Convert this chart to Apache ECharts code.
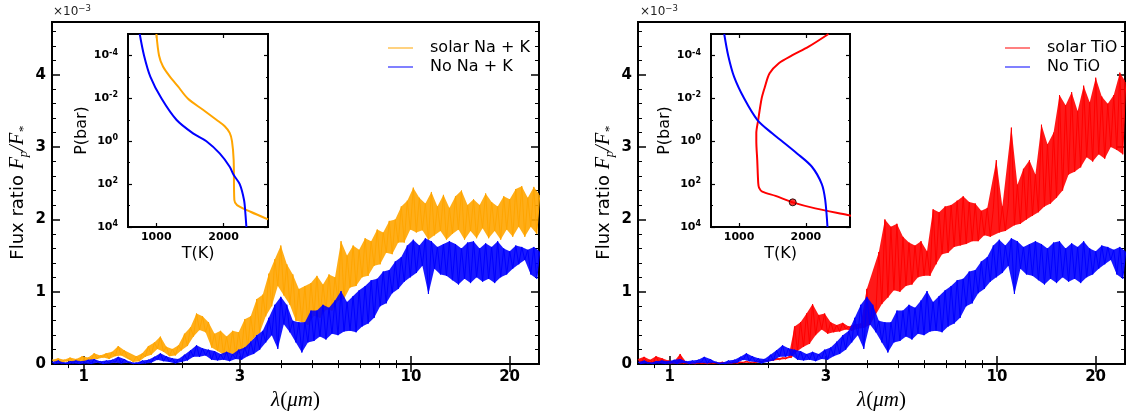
<!DOCTYPE html>
<html>
<head>
<meta charset="utf-8">
<script src="https://cdn.jsdelivr.net/npm/echarts@6/dist/echarts.min.js"></script>
<style>
  html, body { margin: 0; padding: 0; background: #fff; }
  #chart { width: 1126px; height: 416px; }
</style>
</head>
<body>
<div id="chart"></div>
<script>
// Model wavelength grid (micron), shared by every emission spectrum
const wavelength = [
  0.800,0.817,0.835,0.853,0.871,0.889,0.908,0.928,0.948,0.968,
  0.989,1.010,1.032,1.054,1.076,1.099,1.123,1.147,1.171,1.196,
  1.222,1.248,1.275,1.302,1.330,1.359,1.388,1.417,1.448,1.479,
  1.510,1.543,1.576,1.609,1.644,1.679,1.715,1.752,1.789,1.827,
  1.866,1.906,1.947,1.989,2.031,2.075,2.119,2.165,2.211,2.258,
  2.307,2.356,2.406,2.458,2.510,2.564,2.619,2.675,2.732,2.791,
  2.851,2.912,2.974,3.038,3.103,3.169,3.237,3.306,3.377,3.449,
  3.523,3.599,3.676,3.754,3.835,3.917,4.001,4.086,4.174,4.263,
  4.354,4.448,4.543,4.640,4.740,4.841,4.945,5.051,5.159,5.269,
  5.382,5.497,5.615,5.735,5.858,5.983,6.111,6.242,6.376,6.512,
  6.652,6.794,6.940,7.088,7.240,7.395,7.554,7.715,7.881,8.049,
  8.222,8.398,8.578,8.761,8.949,9.140,9.336,9.536,9.740,9.949,
  10.16,10.38,10.60,10.83,11.06,11.30,11.54,11.79,12.04,12.30,
  12.56,12.83,13.10,13.38,13.67,13.96,14.26,14.57,14.88,15.20,
  15.52,15.86,16.20,16.54,16.90,17.26,17.63,18.01,18.39,18.79,
  19.19,19.60,20.02,20.45,20.89,21.33,21.79,22.26,22.73,23.22,
  23.72,24.22,24.74
];

// Planet/star flux ratio, in units of 1e-3
const fluxSolarNaK = [
  .06,.03,.08,.02,.06,.04,.09,.03,.07,.04,
  .11,.04,.09,.06,.15,.07,.12,.09,.15,.07,
  .17,.11,.25,.12,.19,.09,.07,.03,.11,.04,
  .15,.10,.25,.13,.30,.21,.38,.17,.24,.11,
  .21,.12,.26,.19,.42,.25,.51,.38,.70,.47,
  .66,.44,.58,.23,.42,.18,.46,.13,.38,.15,
  .46,.13,.44,.19,.62,.22,.66,.36,.90,.43,
  .96,.66,1.25,.80,1.45,1.08,1.64,.95,1.38,.82,
  1.24,.60,1.04,.58,1.08,.54,1.12,.67,1.22,.64,
  1.10,.75,1.24,.74,1.20,.88,1.70,.90,1.50,1.06,
  1.64,1.08,1.58,1.20,1.74,1.22,1.70,1.36,1.86,1.38,
  1.82,1.54,1.98,1.52,2.00,1.68,2.18,1.68,2.26,1.86,
  2.44,1.82,2.30,1.85,2.22,1.72,2.38,1.78,2.18,1.84,
  2.34,1.72,2.16,1.80,2.32,1.86,2.40,1.72,2.20,1.84,
  2.28,1.74,2.20,1.88,2.36,1.74,2.24,1.84,2.18,1.72,
  2.32,1.86,2.28,1.76,2.42,1.90,2.46,1.76,2.30,1.90,
  2.45,1.80,2.34
];

const fluxNoNaK = [
  .03,.00,.05,.01,.02,.00,.04,.01,.05,.00,
  .04,.01,.06,.00,.07,.02,.04,.00,.05,.01,
  .06,.02,.10,.01,.07,.02,.03,.00,.02,.00,
  .05,.01,.06,.02,.10,.06,.15,.04,.11,.03,
  .08,.01,.07,.03,.13,.05,.19,.10,.26,.10,
  .22,.12,.20,.06,.18,.05,.14,.06,.17,.04,
  .14,.07,.20,.06,.23,.11,.31,.14,.40,.20,
  .46,.30,.64,.40,.82,.21,.93,.55,.82,.44,
  .60,.30,.58,.16,.58,.30,.74,.32,.74,.38,
  .82,.34,.78,.42,.88,.40,1.01,.45,.86,.46,
  .94,.44,1.02,.52,1.08,.56,1.16,.64,1.18,.80,
  1.28,.84,1.30,.98,1.42,1.04,1.48,1.14,1.64,1.20,
  1.72,1.26,1.64,1.36,1.74,.97,1.70,1.32,1.62,1.24,
  1.66,1.22,1.70,1.16,1.66,1.10,1.60,1.18,1.68,1.12,
  1.70,1.20,1.60,1.14,1.67,1.18,1.62,1.12,1.70,1.20,
  1.60,1.24,1.56,1.32,1.64,1.38,1.62,1.44,1.58,1.24,
  1.62,1.18,1.56
];

const fluxSolarTiO = [
  .07,.01,.10,.02,.06,.01,.11,.02,.08,.01,
  .05,.01,.04,.00,.14,.01,.03,.00,.02,.00,
  .03,.01,.02,.00,.03,.01,.02,.01,.03,.01,
  .02,.01,.03,.01,.03,.02,.04,.02,.03,.02,
  .04,.03,.05,.04,.06,.05,.08,.06,.09,.07,
  .10,.09,.52,.18,.58,.24,.70,.28,.83,.40,
  .68,.48,.70,.42,.58,.44,.54,.45,.57,.48,
  .52,.46,.55,.49,.56,.50,1.04,.54,.66,.72,
  1.55,.83,2.00,.92,1.90,1.02,1.94,1.00,1.76,1.08,
  1.68,1.10,1.64,1.20,1.70,1.22,1.56,1.22,2.14,1.38,
  2.10,1.52,2.18,1.54,2.20,1.62,2.26,1.64,2.32,1.66,
  2.24,1.70,2.22,1.70,2.12,1.78,2.16,1.76,2.14,2.82,
  1.82,2.18,1.84,2.22,3.27,1.92,2.48,1.94,2.70,2.00,
  2.82,2.05,2.62,2.10,3.31,2.18,3.04,2.22,3.20,2.30,
  3.72,2.40,3.58,2.62,3.76,2.66,3.50,2.72,3.85,2.86,
  3.62,2.80,3.96,2.90,3.70,2.84,3.60,3.00,3.72,2.96,
  4.03,2.90,3.90
];

// The TiO-free model gives the same spectrum as the alkali-free one
const fluxNoTiO = fluxNoNaK;

// Pressure-temperature profiles: pressure (bar), temperature (K)
const ptNaK_P   = [1e-5, 1e-4, 3.3e-4, 9.5e-4, 2.8e-3, 1.05e-2, 3.4e-2, 0.1, 0.2, 0.41, 1, 7.6, 550, 950, 1950, 4400];
const ptNaK_T   = [1002, 1041, 1100, 1200, 1323, 1472, 1694, 1893, 2017, 2091, 2125, 2150, 2160, 2200, 2400, 2660];
const ptNoNaK_P = [1e-5, 1e-4, 1e-3, 1e-2, 0.1, 0.43, 1, 3.7, 15.5, 38, 100, 550, 2300, 1e4];
const ptNoNaK_T = [754, 818, 913, 1076, 1299, 1546, 1745, 1942, 2091, 2151, 2240, 2304, 2324, 2339];
const ptTiO_P   = [1e-5, 3.9e-5, 1e-4, 2.3e-4, 6.8e-4, 2.9e-3, 1e-2, 0.1, 0.43, 1, 7.6, 91, 150, 224, 355, 708, 1350, 2750, 3100];
const ptTiO_T   = [2338, 2041, 1792, 1595, 1457, 1387, 1338, 1287, 1258, 1258, 1272, 1287, 1300, 1347, 1546, 1803, 2140, 2625, 2700];
const ptNoTiO_P = [1e-5, 1e-4, 1e-3, 1e-2, 0.1, 0.43, 1, 3.7, 15.5, 100, 550, 1e4];
const ptNoTiO_T = [778, 837, 926, 1075, 1272, 1495, 1644, 1867, 2090, 2238, 2289, 2323];
// photosphere marker on the TiO profile
const photoT = 1803;
const photoP = 708;

// Tick positions
const xMajor = [1, 3, 10, 20];
const xMinor = [0.9, 2, 4, 5, 6, 7, 8, 9];
const yMajor = [0, 1, 2, 3, 4];
const yMinor = [0.2,0.4,0.6,0.8,1.2,1.4,1.6,1.8,2.2,2.4,2.6,2.8,3.2,3.4,3.6,3.8,4.2,4.4,4.6];
const tMajor = [1000, 2000];
const pMajor = [1e-4, 1e-2, 1, 1e2, 1e4];
const pMinor = [1e-5, 1e-3, 1e-1, 1e1, 1e3];

const ORANGE = '#FFA500', BLUE = '#0000FF', RED = '#FF0000', BLACK = '#000';
const SANS = 'DejaVu Sans', SERIF = 'Liberation Serif';

const pairs = (xs, ys) => xs.map((x, i) => [x, ys[i]]);

const grids = [], xAxes = [], yAxes = [], series = [];
const hidden = { show: false };
function ticks(values, len, width) {
  return { show: true, inside: true, length: len, customValues: values,
           lineStyle: { color: BLACK, width: width } };
}

function mainPanel(left) {
  const g = grids.length;
  grids.push({ left: left, top: 22, width: 487, height: 350, show: true,
               borderColor: BLACK, borderWidth: 2, backgroundColor: 'rgba(0,0,0,0)' });
  const xb = { gridIndex: g, type: 'log', logBase: 10, min: 0.8, max: 24.6,
               axisLine: hidden, splitLine: hidden, silent: true };
  const xi = xAxes.length;
  xAxes.push(Object.assign({}, xb, {
    position: 'bottom', axisTick: ticks(xMajor, 8, 1.5),
    axisLabel: { customValues: xMajor, formatter: v => String(v), margin: 6, color: BLACK,
                 fontFamily: SANS, fontWeight: 'bold', fontSize: 15 },
    name: '{m|λ}{r|(}{m|μm}{r|)}', nameLocation: 'middle', nameGap: 24,
    nameTextStyle: { color: BLACK, rich: {
      m: { fontFamily: SERIF, fontStyle: 'italic', fontSize: 21, color: BLACK },
      r: { fontFamily: SERIF, fontSize: 21, color: BLACK } } }
  }));
  xAxes.push(Object.assign({}, xb, { position: 'bottom', axisTick: ticks(xMinor, 4, 1), axisLabel: hidden }));
  xAxes.push(Object.assign({}, xb, { position: 'top', axisTick: ticks(xMajor, 8, 1.5), axisLabel: hidden }));
  xAxes.push(Object.assign({}, xb, { position: 'top', axisTick: ticks(xMinor, 4, 1), axisLabel: hidden }));

  const yb = { gridIndex: g, type: 'value', min: 0, max: 4.73,
               axisLine: hidden, splitLine: hidden, silent: true };
  const yi = yAxes.length;
  yAxes.push(Object.assign({}, yb, {
    position: 'left', axisTick: ticks(yMajor, 8, 1.5),
    axisLabel: { customValues: yMajor, margin: 6, color: BLACK,
                 fontFamily: SANS, fontWeight: 'bold', fontSize: 15 },
    name: '{r|Flux ratio }{m|F}{s|p}{m|/F}{s|*}', nameLocation: 'middle', nameRotate: 90, nameGap: 22,
    nameTextStyle: { color: BLACK, rich: {
      r: { fontFamily: SANS, fontSize: 18, lineHeight: 24, color: BLACK },
      m: { fontFamily: SERIF, fontStyle: 'italic', fontSize: 20, lineHeight: 24, color: BLACK },
      s: { fontFamily: SERIF, fontStyle: 'italic', fontSize: 13, lineHeight: 13, verticalAlign: 'bottom', color: BLACK } } }
  }));
  yAxes.push(Object.assign({}, yb, { position: 'left', axisTick: ticks(yMinor, 4, 1), axisLabel: hidden }));
  yAxes.push(Object.assign({}, yb, { position: 'right', axisTick: ticks(yMajor, 8, 1.5), axisLabel: hidden }));
  yAxes.push(Object.assign({}, yb, { position: 'right', axisTick: ticks(yMinor, 4, 1), axisLabel: hidden }));
  return { xi: xi, yi: yi };
}

function insetPanel(left, width) {
  const g = grids.length;
  grids.push({ left: left, top: 34, width: width, height: 193, show: true, z: 10,
               borderColor: BLACK, borderWidth: 2, backgroundColor: '#fff' });
  const xb = { gridIndex: g, type: 'value', min: 580, max: 2660, z: 11,
               axisLine: hidden, splitLine: hidden, silent: true };
  const xi = xAxes.length;
  xAxes.push(Object.assign({}, xb, {
    position: 'bottom', axisTick: ticks(tMajor, 4, 1.2),
    axisLabel: { customValues: tMajor, formatter: v => String(v), margin: 5, color: BLACK,
                 fontFamily: SANS, fontWeight: 'bold', fontSize: 11 },
    name: 'T(K)', nameLocation: 'middle', nameGap: 19,
    nameTextStyle: { fontFamily: SANS, fontSize: 16, color: BLACK }
  }));
  xAxes.push(Object.assign({}, xb, { position: 'top', axisTick: ticks(tMajor, 4, 1.2), axisLabel: hidden }));

  const yb = { gridIndex: g, type: 'log', logBase: 10, min: 1e-5, max: 1e4, inverse: true, z: 11,
               axisLine: hidden, splitLine: hidden, silent: true };
  const yi = yAxes.length;
  yAxes.push(Object.assign({}, yb, {
    position: 'left', axisTick: ticks(pMajor, 4, 1.2),
    axisLabel: { customValues: pMajor, margin: 10, color: BLACK,
                 formatter: v => '{b|10}{s|' + Math.round(Math.log10(v)) + '}',
                 rich: {
                   b: { fontFamily: SANS, fontWeight: 'bold', fontSize: 11, lineHeight: 14, color: BLACK },
                   s: { fontFamily: SANS, fontWeight: 'bold', fontSize: 8, lineHeight: 8, verticalAlign: 'top', color: BLACK } } },
    name: 'P(bar)', nameLocation: 'middle', nameRotate: 90, nameGap: 37,
    nameTextStyle: { fontFamily: SANS, fontSize: 16, color: BLACK }
  }));
  yAxes.push(Object.assign({}, yb, { position: 'left', axisTick: ticks(pMinor, 2, 1), axisLabel: hidden }));
  yAxes.push(Object.assign({}, yb, { position: 'right', axisTick: ticks(pMajor, 4, 1.2), axisLabel: hidden }));
  yAxes.push(Object.assign({}, yb, { position: 'right', axisTick: ticks(pMinor, 2, 1), axisLabel: hidden }));
  return { xi: xi, yi: yi };
}

// A noisy spectrum: its zigzag trace, plus the body between the trace's
// local maxima and local minima filled in, as a dense spectrum looks.
function spectrum(name, axes, ys, color, z) {
  const peaks = [], troughs = [];
  for (let i = 0; i < ys.length; i++) {
    const a = i > 0 ? ys[i - 1] : ys[i + 1];
    const b = i < ys.length - 1 ? ys[i + 1] : ys[i - 1];
    if (ys[i] >= a && ys[i] >= b) peaks.push(i);
    else if (ys[i] <= a && ys[i] <= b) troughs.push(i);
  }
  series.push({
    type: 'custom', xAxisIndex: axes.xi, yAxisIndex: axes.yi, z: z, clip: true,
    silent: true, animation: false, data: [[wavelength[0], ys[0]]],
    renderItem: (params, api) => {
      const pts = peaks.map(i => api.coord([wavelength[i], ys[i]]))
        .concat(troughs.slice().reverse().map(i => api.coord([wavelength[i], ys[i]])));
      return { type: 'polygon', shape: { points: pts }, style: { fill: color, opacity: 0.9 } };
    }
  });
  series.push({ type: 'line', name: name, xAxisIndex: axes.xi, yAxisIndex: axes.yi,
                data: pairs(wavelength, ys), showSymbol: false, color: color, z: z,
                lineStyle: { color: color, width: 1 }, silent: true, animation: false });
}
function profile(name, axes, ts, ps, color) {
  series.push({ type: 'line', name: name, xAxisIndex: axes.xi, yAxisIndex: axes.yi,
                data: pairs(ts, ps), showSymbol: false, smooth: 0.3,
                color: color, z: 12,
                lineStyle: { color: color, width: 2 }, silent: true, animation: false });
}

// Left: alkali metals
const mainL = mainPanel(52);
const insetL = insetPanel(128, 140);
// Right: titanium oxide
const mainR = mainPanel(638);
const insetR = insetPanel(711, 139);

spectrum('solar Na + K', mainL, fluxSolarNaK, ORANGE, 2);
spectrum('No Na + K', mainL, fluxNoNaK, BLUE, 3);
spectrum('solar TiO', mainR, fluxSolarTiO, RED, 2);
spectrum('No TiO', mainR, fluxNoTiO, BLUE, 3);

profile('P-T solar Na + K', insetL, ptNaK_T, ptNaK_P, ORANGE);
profile('P-T no Na + K', insetL, ptNoNaK_T, ptNoNaK_P, BLUE);
profile('P-T solar TiO', insetR, ptTiO_T, ptTiO_P, RED);
profile('P-T no TiO', insetR, ptNoTiO_T, ptNoTiO_P, BLUE);
series.push({ type: 'scatter', xAxisIndex: insetR.xi, yAxisIndex: insetR.yi, z: 13,
              data: [[photoT, photoP]], symbolSize: 7, silent: true, animation: false,
              itemStyle: { color: RED, borderColor: BLACK, borderWidth: 1 } });

const legendBase = {
  orient: 'vertical', icon: 'rect', itemWidth: 25, itemHeight: 1, itemGap: 3,
  selectedMode: false,
  textStyle: { fontFamily: SANS, fontSize: 16, color: BLACK, padding: [0, 0, 0, 12] }
};

const offsetText = x => ({
  type: 'text', left: x, top: 4, silent: true,
  style: { text: '{a|×10}{b|−3}', rich: {
    a: { fontFamily: SANS, fontSize: 12, lineHeight: 16, fill: '#222' },
    b: { fontFamily: SANS, fontSize: 8.5, lineHeight: 9, verticalAlign: 'top', fill: '#222' } } }
});

const chart = echarts.init(document.getElementById('chart'), null, { renderer: 'canvas' });
chart.setOption({
  animation: false,
  backgroundColor: '#fff',
  grid: grids,
  xAxis: xAxes,
  yAxis: yAxes,
  legend: [
    Object.assign({}, legendBase, { data: ['solar Na + K', 'No Na + K'], left: 383, top: 35 }),
    Object.assign({}, legendBase, { data: ['solar TiO', 'No TiO'], left: 1000, top: 35 })
  ],
  graphic: [offsetText(53), offsetText(640)],
  series: series
});
</script>
</body>
</html>
